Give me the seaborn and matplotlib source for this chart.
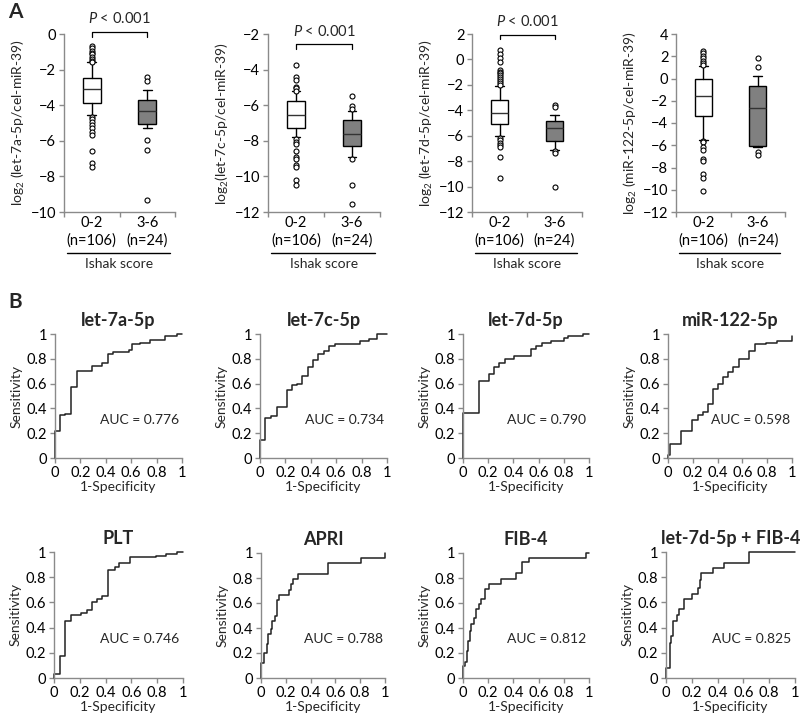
import numpy as np
import pandas as pd
import matplotlib
matplotlib.use("Agg")
import matplotlib.pyplot as plt
import seaborn as sns

# ---------------- data ----------------
groups = ["0-2\n(n=106)", "3-6\n(n=24)"]
box_ylabels = ["log$_2$ (let-7a-5p/cel-miR-39)", "log$_2$(let-7c-5p/cel-miR-39)",
               "log$_2$ (let-7d-5p/cel-miR-39)", "log$_2$ (miR-122-5p/cel-miR-39)"]
box_ylims = [(-10, 0), (-12, -2), (-12, 2), (-12, 4)]
pvalue_text = ["$P$ < 0.001", "$P$ < 0.001", "$P$ < 0.001", None]
bracket_y = [0.13, -2.56, 1.95, None]
bracket_drop = [0.28, 0.28, 0.35, None]

# box statistics per panel: [group 0-2, group 3-6]
let7a_q3 = [-2.48, -3.69]; let7a_med = [-3.08, -4.35]; let7a_q1 = [-3.88, -5.04]
let7a_whi = [-1.6, -3.17]; let7a_wlo = [-4.57, -5.28]
let7a_fl_g1 = [-0.65, -0.8, -0.95, -1.05, -1.15, -1.3, -1.4, -1.5, -1.6,
               -4.65, -4.8, -4.95, -5.1, -5.3, -5.5, -5.7, -6.55, -7.25, -7.45]
let7a_fl_g2 = [-2.39, -2.65, -5.97, -6.49, -9.33]

let7c_q3 = [-5.77, -6.82]; let7c_med = [-6.57, -7.6]; let7c_q1 = [-7.3, -8.32]
let7c_whi = [-5.2, -6.3]; let7c_wlo = [-7.8, -8.9]
let7c_fl_g1 = [-3.74, -4.39, -4.58, -4.95, -5.05, -5.18,
               -7.9, -8.07, -8.2, -8.58, -8.9, -9.05, -9.38, -9.47, -10.19, -10.5]
let7c_fl_g2 = [-5.46, -6.07, -6.2, -9.0, -10.5, -11.53]

let7d_q3 = [-3.22, -4.85]; let7d_med = [-4.19, -5.4]; let7d_q1 = [-5.05, -6.45]
let7d_whi = [-2.1, -4.35]; let7d_wlo = [-6.0, -7.1]
let7d_fl_g1 = [0.75, 0.45, 0.1, -0.2, -0.85, -0.95, -1.05, -1.2, -1.35, -1.55, -1.7, -1.85, -2.0,
               -6.15, -6.35, -6.55, -6.75, -6.9, -7.7, -9.3]
let7d_fl_g2 = [-3.6, -3.75, -7.2, -7.35, -10.05]

mir122_q3 = [0.0, -0.65]; mir122_med = [-1.55, -2.65]; mir122_q1 = [-3.4, -6.1]
mir122_whi = [1.1, 0.25]; mir122_wlo = [-5.5, -6.15]
mir122_fl_g1 = [2.45, 2.3, 2.0, 1.8, 1.6, 1.4, 1.2,
                -5.6, -5.75, -6.2, -6.4, -7.2, -7.4, -8.6, -8.9, -10.1]
mir122_fl_g2 = [1.85, 1.05, -6.65, -6.85]

# ROC curves (1-specificity, sensitivity) corner points
roc_titles = ["let-7a-5p", "let-7c-5p", "let-7d-5p", "miR-122-5p",
              "PLT", "APRI", "FIB-4", "let-7d-5p + FIB-4"]
roc_auc = ["0.776", "0.734", "0.790", "0.598", "0.746", "0.788", "0.812", "0.825"]

let7a_fpr = [0, 0, 0.04, 0.04, 0.08, 0.08, 0.124, 0.124, 0.176, 0.176, 0.295, 0.295, 0.374, 0.374,
             0.416, 0.416, 0.46, 0.46, 0.58, 0.58, 0.61, 0.61, 0.67, 0.67, 0.75, 0.75, 0.87, 0.87,
             0.96, 0.96, 1.0]
let7a_tpr = [0, 0.22, 0.22, 0.345, 0.345, 0.355, 0.355, 0.575, 0.575, 0.70, 0.70, 0.74, 0.74, 0.77,
             0.77, 0.84, 0.84, 0.855, 0.855, 0.87, 0.87, 0.92, 0.92, 0.93, 0.93, 0.95, 0.95, 0.98,
             0.98, 1.0, 1.0]

let7c_fpr = [0, 0, 0.04, 0.04, 0.084, 0.084, 0.13, 0.13, 0.21, 0.21, 0.25, 0.25, 0.29, 0.29,
             0.33, 0.33, 0.375, 0.375, 0.42, 0.42, 0.46, 0.46, 0.50, 0.50, 0.54, 0.54, 0.59, 0.59,
             0.785, 0.785, 0.86, 0.86, 0.92, 0.92, 1.0]
let7c_tpr = [0, 0.147, 0.147, 0.32, 0.32, 0.34, 0.34, 0.415, 0.415, 0.545, 0.545, 0.59, 0.59, 0.60,
             0.60, 0.66, 0.66, 0.73, 0.73, 0.79, 0.79, 0.84, 0.84, 0.866, 0.866, 0.906, 0.906, 0.92,
             0.92, 0.94, 0.94, 0.96, 0.96, 1.0, 1.0]

let7d_fpr = [0, 0, 0.127, 0.127, 0.207, 0.207, 0.247, 0.247, 0.287, 0.287, 0.33, 0.33, 0.405, 0.405,
             0.54, 0.54, 0.58, 0.58, 0.625, 0.625, 0.70, 0.70, 0.80, 0.80, 0.835, 0.835, 0.955,
             0.955, 1.0]
let7d_tpr = [0, 0.365, 0.365, 0.62, 0.62, 0.68, 0.68, 0.73, 0.73, 0.77, 0.77, 0.80, 0.80, 0.825,
             0.825, 0.88, 0.88, 0.905, 0.905, 0.925, 0.925, 0.945, 0.945, 0.965, 0.965, 0.98, 0.98,
             1.0, 1.0]

mir122_fpr = [0, 0, 0.02, 0.02, 0.108, 0.108, 0.19, 0.19, 0.24, 0.24, 0.28, 0.28, 0.32, 0.32,
              0.36, 0.36, 0.40, 0.40, 0.446, 0.446, 0.487, 0.487, 0.527, 0.527, 0.576, 0.576,
              0.657, 0.657, 0.70, 0.70, 0.79, 0.79, 0.88, 0.88, 1.0, 1.0]
mir122_tpr = [0, 0.027, 0.027, 0.114, 0.114, 0.216, 0.216, 0.31, 0.31, 0.346, 0.346, 0.373, 0.373,
              0.432, 0.432, 0.554, 0.554, 0.60, 0.60, 0.65, 0.65, 0.69, 0.69, 0.73, 0.73, 0.80,
              0.80, 0.86, 0.86, 0.916, 0.916, 0.93, 0.93, 0.946, 0.946, 0.985]

plt_fpr = [0, 0, 0.044, 0.044, 0.088, 0.088, 0.13, 0.13, 0.21, 0.21, 0.256, 0.256, 0.295, 0.295,
           0.336, 0.336, 0.372, 0.372, 0.418, 0.418, 0.47, 0.47, 0.504, 0.504, 0.587, 0.587,
           0.79, 0.79, 0.87, 0.87, 0.95, 0.95, 1.0]
plt_tpr = [0, 0.034, 0.034, 0.177, 0.177, 0.455, 0.455, 0.497, 0.497, 0.516, 0.516, 0.54, 0.54,
           0.60, 0.60, 0.627, 0.627, 0.653, 0.653, 0.86, 0.86, 0.88, 0.88, 0.91, 0.91, 0.96, 0.96,
           0.97, 0.97, 0.987, 0.987, 1.0, 1.0]

apri_fpr = [0, 0, 0.027, 0.027, 0.046, 0.046, 0.06, 0.06, 0.08, 0.08, 0.09, 0.09, 0.113, 0.113,
            0.126, 0.126, 0.148, 0.148, 0.228, 0.228, 0.242, 0.242, 0.26, 0.26, 0.30, 0.30,
            0.543, 0.543, 0.806, 0.806, 1.0, 1.0]
apri_tpr = [0, 0.12, 0.12, 0.20, 0.20, 0.27, 0.27, 0.35, 0.35, 0.395, 0.395, 0.458, 0.458, 0.50,
            0.50, 0.627, 0.627, 0.667, 0.667, 0.708, 0.708, 0.75, 0.75, 0.79, 0.79, 0.83, 0.83,
            0.918, 0.918, 0.96, 0.96, 1.0]

fib4_fpr = [0, 0, 0.013, 0.013, 0.034, 0.034, 0.04, 0.04, 0.053, 0.053, 0.066, 0.066, 0.088, 0.088,
            0.106, 0.106, 0.125, 0.125, 0.14, 0.14, 0.178, 0.178, 0.207, 0.207, 0.305, 0.305,
            0.42, 0.42, 0.472, 0.472, 0.525, 0.525, 0.98, 0.98, 1.0]
fib4_tpr = [0, 0.094, 0.094, 0.13, 0.13, 0.214, 0.214, 0.295, 0.295, 0.375, 0.375, 0.43, 0.43,
            0.48, 0.48, 0.55, 0.55, 0.59, 0.59, 0.635, 0.635, 0.716, 0.716, 0.75, 0.75, 0.796,
            0.796, 0.84, 0.84, 0.925, 0.925, 0.957, 0.957, 1.0, 1.0]

combo_fpr = [0, 0, 0.033, 0.033, 0.041, 0.041, 0.054, 0.054, 0.085, 0.085, 0.098, 0.098, 0.137,
             0.137, 0.20, 0.20, 0.245, 0.245, 0.26, 0.26, 0.273, 0.273, 0.364, 0.364, 0.45, 0.45,
             0.644, 0.644, 1.0]
combo_tpr = [0, 0.079, 0.079, 0.276, 0.276, 0.33, 0.33, 0.455, 0.455, 0.50, 0.50, 0.545, 0.545,
             0.624, 0.624, 0.666, 0.666, 0.718, 0.718, 0.776, 0.776, 0.83, 0.83, 0.874, 0.874,
             0.916, 0.916, 1.0, 1.0]

roc_ticks = [0, 0.2, 0.4, 0.6, 0.8, 1.0]
roc_ticklabels = ["0", "0.2", "0.4", "0.6", "0.8", "1"]

# ---------------- style ----------------
sns.set_style("ticks")
plt.rcParams["font.family"] = ["Lato", "DejaVu Sans"]
plt.rcParams["mathtext.fontset"] = "custom"
plt.rcParams["mathtext.rm"] = "Lato"
plt.rcParams["mathtext.it"] = "Lato:italic"
plt.rcParams["mathtext.bf"] = "Lato:bold"

SPINE = "#8a8a8a"
W, H = 800, 716
TICK_FS = 10.5
LAB_FS = 10


def rect(l, r, t, b):
    return [l / W, 1 - b / H, (r - l) / W, (b - t) / H]


fig = plt.figure(figsize=(8, 7.16), dpi=100)
fig.patch.set_facecolor("white")


def style_ax(ax):
    for s in ["top", "right"]:
        ax.spines[s].set_visible(False)
    for s in ["left", "bottom"]:
        ax.spines[s].set_color(SPINE)
        ax.spines[s].set_linewidth(1.0)
    ax.tick_params(which="both", color=SPINE, length=3.5, width=1.0, labelsize=TICK_FS,
                   labelcolor="black", pad=2)


# ---------------- Panel A ----------------
box_rects = [rect(64, 175, 34, 212), rect(268, 380, 34, 212),
             rect(472, 582, 34, 212), rect(676, 785, 34, 212)]
box_stats = [
    (let7a_q1, let7a_med, let7a_q3, let7a_wlo, let7a_whi, let7a_fl_g1, let7a_fl_g2),
    (let7c_q1, let7c_med, let7c_q3, let7c_wlo, let7c_whi, let7c_fl_g1, let7c_fl_g2),
    (let7d_q1, let7d_med, let7d_q3, let7d_wlo, let7d_whi, let7d_fl_g1, let7d_fl_g2),
    (mir122_q1, mir122_med, mir122_q3, mir122_wlo, mir122_whi, mir122_fl_g1, mir122_fl_g2),
]
box_fills = ["white", "#808080"]

for i, (r, st) in enumerate(zip(box_rects, box_stats)):
    ax = fig.add_axes(r)
    q1, med, q3, wlo, whi, fl1, fl2 = st
    stats = [dict(q1=q1[g], med=med[g], q3=q3[g], whislo=wlo[g], whishi=whi[g], fliers=[])
             for g in range(2)]
    bp = ax.bxp(stats, positions=[0, 1], widths=0.32, patch_artist=True, showfliers=False,
                boxprops=dict(edgecolor="black", linewidth=1.0),
                medianprops=dict(color="#333333", linewidth=1.0),
                whiskerprops=dict(color="black", linewidth=1.0),
                capprops=dict(color="black", linewidth=1.0))
    for patch, fc in zip(bp["boxes"], box_fills):
        patch.set_facecolor(fc)
    fl_df = pd.DataFrame({"pos": [0] * len(fl1) + [1] * len(fl2), "val": list(fl1) + list(fl2)})
    sns.scatterplot(data=fl_df, x="pos", y="val", ax=ax, marker="o", s=13, color="white",
                    edgecolor="black", linewidth=0.8, zorder=5, clip_on=False, legend=False)
    ax.set_xlim(-0.5, 1.5)
    ax.set_ylim(*box_ylims[i])
    ax.set_yticks(np.arange(box_ylims[i][0], box_ylims[i][1] + 0.1, 2))
    ax.set_xticks([0, 1])
    ax.set_xticklabels(groups, fontsize=TICK_FS, linespacing=1.3)
    ax.set_xticks([-0.5, 0.5, 1.5], minor=True)
    style_ax(ax)
    ax.tick_params(axis="x", which="major", length=0, pad=3)
    ax.set_xlabel("")
    ax.set_ylabel(box_ylabels[i], fontsize=LAB_FS, labelpad=3)
    # group line and Ishak score
    ax.plot([0.03, 0.955], [-0.228, -0.228], transform=ax.transAxes, color="black",
            lw=1.0, clip_on=False)
    ax.text(0.5, -0.292, "Ishak score", transform=ax.transAxes, ha="center", va="center",
            fontsize=LAB_FS)
    if pvalue_text[i] is not None:
        yb = bracket_y[i]
        d = bracket_drop[i]
        ax.plot([0, 0, 1, 1], [yb - d, yb, yb, yb - d], color="black", lw=0.9, clip_on=False)
        span = box_ylims[i][1] - box_ylims[i][0]
        ax.text(0.5, yb + span * 0.03, pvalue_text[i], ha="center", va="bottom", fontsize=10.5)

# ---------------- Panel B ----------------
roc_rects = [rect(55, 182, 334, 458), rect(260, 387, 334, 458), rect(463, 589, 334, 458),
             rect(668, 792, 334, 458),
             rect(54, 183, 552, 678), rect(261, 385, 553, 678), rect(463, 589, 553, 678),
             rect(666, 795, 552, 678)]
roc_data = [(let7a_fpr, let7a_tpr), (let7c_fpr, let7c_tpr), (let7d_fpr, let7d_tpr),
            (mir122_fpr, mir122_tpr), (plt_fpr, plt_tpr), (apri_fpr, apri_tpr),
            (fib4_fpr, fib4_tpr), (combo_fpr, combo_tpr)]

for i, (r, (fx, ty)) in enumerate(zip(roc_rects, roc_data)):
    ax = fig.add_axes(r)
    df = pd.DataFrame({"fpr": fx, "tpr": ty})
    sns.lineplot(data=df, x="fpr", y="tpr", ax=ax, sort=False, estimator=None,
                 color="#222222", lw=1.1, clip_on=False)
    ax.set_xlim(0, 1)
    ax.set_ylim(0, 1)
    ax.set_xticks(roc_ticks)
    ax.set_xticklabels(roc_ticklabels)
    ax.set_yticks(roc_ticks)
    ax.set_yticklabels(roc_ticklabels)
    style_ax(ax)
    ax.set_xlabel("1-Specificity", fontsize=LAB_FS, labelpad=1)
    ax.set_ylabel("Sensitivity", fontsize=LAB_FS, labelpad=3)
    ax.set_title(roc_titles[i], fontsize=13, fontweight="bold", pad=6)
    ax.text(0.665, 0.31, "AUC = " + roc_auc[i], ha="center", va="center", fontsize=10)

fig.text(8 / W, 1 - 12 / H, "A", fontsize=15, fontweight="bold", ha="left", va="center")
fig.text(8 / W, 1 - 302 / H, "B", fontsize=15, fontweight="bold", ha="left", va="center")

fig.savefig("out.png", dpi=100, facecolor="white")
